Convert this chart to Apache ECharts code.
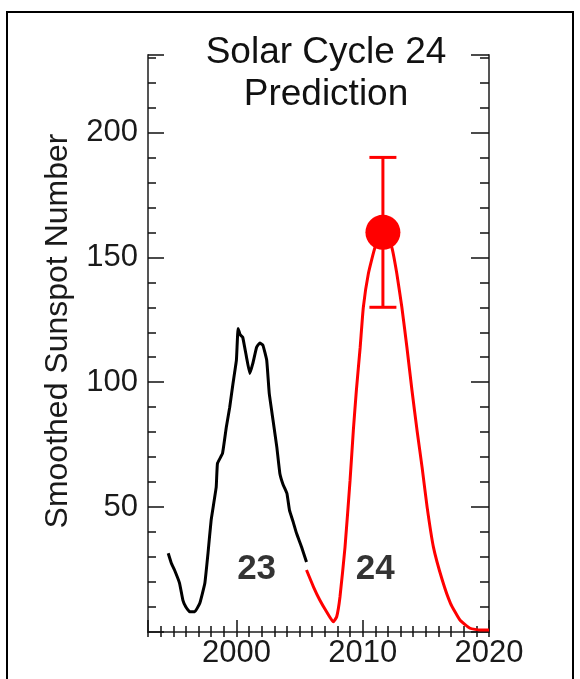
<!DOCTYPE html>
<html><head><meta charset="utf-8">
<script src="https://cdn.jsdelivr.net/npm/echarts@6/dist/echarts.min.js"></script>
<style>html,body{margin:0;padding:0;background:#fff}#c{width:580px;height:679px}</style>
</head><body><div id="c"></div>
<script>
// Cycle 23 (observed, black)
const cycle23Years = [1994.6, 1994.85, 1995.1, 1995.5, 1995.76, 1996.0, 1996.3, 1996.7, 1997.1, 1997.5, 1997.75, 1998.0, 1998.4, 1998.5, 1998.9, 1999.2, 1999.47, 1999.73, 2000.0, 2000.13, 2000.3, 2000.5, 2000.8, 2001.06, 2001.3, 2001.6, 2001.85, 2002.1, 2002.4, 2002.6, 2002.9, 2003.2, 2003.44, 2003.7, 2004.0, 2004.2, 2004.5, 2004.76, 2005.16, 2005.55];
const cycle23Values = [31.5, 27.5, 24.8, 19.5, 12.8, 10, 8.1, 8.1, 11.5, 19.5, 31.5, 44.8, 58, 67.5, 71.5, 82, 90, 99.5, 108.8, 121.5, 119, 118, 110, 103.5, 107.5, 114, 115.7, 114.8, 108.8, 95.5, 84.8, 74, 63.5, 59, 55.5, 48.8, 44, 39.5, 34, 28];
// Cycle 24 (prediction, red)
const cycle24Years = [2005.55, 2006.1, 2006.6, 2007.14, 2007.67, 2007.94, 2008.2, 2008.6, 2009.0, 2009.26, 2009.5, 2009.8, 2010.05, 2010.45, 2010.98, 2011.6, 2012.3, 2012.7, 2013.1, 2013.5, 2013.9, 2014.3, 2014.7, 2015.1, 2015.6, 2016.3, 2016.95, 2017.7, 2018.5, 2019.3, 2020];
const cycle24Values = [24.8, 18.1, 12.8, 8.1, 4.1, 6.1, 14, 34, 60.8, 80.8, 96.8, 114, 130, 143.5, 154, 160, 154, 143.5, 130, 114, 96.8, 80.8, 66, 50, 34, 20.8, 11.5, 4.8, 1.5, 0.8, 0.8];
// Predicted peak with error bar
const peakYears = [2011.6];
const peakValues = [160];
const peakLow = [130];
const peakHigh = [190];
// Cycle number labels
const cycleLabelNames = ['23', '24'];
const cycleLabelYears = [2001.6, 2011.0];
const cycleLabelValues = [25, 25];
// Tick labels
const xTickLabels = [2000, 2010, 2020];
const yTickLabels = [50, 100, 150, 200];

const FONT = '"Liberation Sans", Arial, sans-serif';
const X_MIN = 1993, X_MAX = 2020, Y_MIN = 0, Y_MAX = 231;
const axisLineStyle = { color: '#555', width: 2 };
const tickStyle = { color: '#111', width: 1.5 };

const chart = echarts.init(document.getElementById('c'), null, { renderer: 'canvas' });
const zip = (a, b) => a.map((v, i) => [v, b[i]]);

function xAxisCfg(pos, showLabels, majorLen, minorLen) {
  return { type: 'value', position: pos, min: X_MIN, max: X_MAX, minInterval: 10, maxInterval: 10, splitNumber: 3,
    axisLine: { show: true, lineStyle: axisLineStyle },
    axisTick: { show: true, inside: true, length: majorLen, lineStyle: tickStyle },
    minorTick: { show: true, splitNumber: 10, length: minorLen, lineStyle: tickStyle },
    axisLabel: { show: showLabels, showMinLabel: false, formatter: v => xTickLabels.includes(v) ? String(v) : '',
      fontFamily: FONT, fontSize: 31, color: '#1a1a1a', margin: 6 },
    splitLine: { show: false }, minorSplitLine: { show: false } };
}
function yAxisCfg(pos, showLabels, majorLen, minorLen) {
  return { type: 'value', position: pos, min: Y_MIN, max: Y_MAX, interval: 50,
    axisLine: { show: true, lineStyle: axisLineStyle },
    axisTick: { show: true, inside: true, length: majorLen, lineStyle: tickStyle },
    minorTick: { show: true, splitNumber: 5, length: minorLen, lineStyle: tickStyle },
    axisLabel: { show: showLabels, formatter: v => yTickLabels.includes(v) ? String(v) : '',
      fontFamily: FONT, fontSize: 31, color: '#1a1a1a', margin: 10 },
    splitLine: { show: false }, minorSplitLine: { show: false } };
}

chart.setOption({
  animation: false,
  backgroundColor: '#fff',
  title: {
    text: 'Solar Cycle 24\nPrediction',
    left: 318, textAlign: 'center', top: 30,
    backgroundColor: '#fff',
    padding: [2, 8, 6, 8],
    textStyle: { fontFamily: FONT, fontSize: 37, fontWeight: 'normal', color: '#111', lineHeight: 42 }
  },
  grid: { left: 148, right: 91, top: 55, bottom: 47 },
  xAxis: [ xAxisCfg('bottom', true, 12, 6), xAxisCfg('top', false, 5, 5) ],
  yAxis: [ yAxisCfg('left', true, 16, 8), yAxisCfg('right', false, 18, 9) ],
  series: [
    { name: 'Cycle 23', type: 'line', xAxisIndex: 0, yAxisIndex: 0, data: zip(cycle23Years, cycle23Values),
      showSymbol: false, smooth: 0.1, lineStyle: { color: '#000', width: 3 }, itemStyle: { color: '#000' } },
    { name: 'Cycle 24', type: 'line', xAxisIndex: 0, yAxisIndex: 0, data: zip(cycle24Years, cycle24Values),
      showSymbol: false, smooth: 0.15, lineStyle: { color: '#ff0000', width: 3 }, itemStyle: { color: '#ff0000' } },
    { name: 'Error', type: 'custom', xAxisIndex: 0, yAxisIndex: 0,
      data: peakYears.map((x, i) => [x, peakLow[i], peakHigh[i]]),
      encode: { x: 0, y: [1, 2] },
      renderItem: (params, api) => {
        const x = api.value(0);
        const lo = api.coord([x, api.value(1)]);
        const hi = api.coord([x, api.value(2)]);
        const hw = 13.5;
        const st = { stroke: '#ff0000', lineWidth: 3 };
        return { type: 'group', children: [
          { type: 'line', shape: { x1: lo[0], y1: lo[1], x2: hi[0], y2: hi[1] }, style: st },
          { type: 'line', shape: { x1: lo[0] - hw, y1: lo[1], x2: lo[0] + hw, y2: lo[1] }, style: st },
          { type: 'line', shape: { x1: hi[0] - hw, y1: hi[1], x2: hi[0] + hw, y2: hi[1] }, style: st }
        ] };
      }, z: 3 },
    { name: 'Peak', type: 'scatter', xAxisIndex: 0, yAxisIndex: 0, data: zip(peakYears, peakValues),
      symbol: 'circle', symbolSize: 35, itemStyle: { color: '#ff0000', opacity: 1 }, z: 4 },
    { name: 'Labels', type: 'scatter', xAxisIndex: 0, yAxisIndex: 0,
      data: cycleLabelYears.map((x, i) => ({ name: cycleLabelNames[i], value: [x, cycleLabelValues[i]] })),
      symbolSize: 1, itemStyle: { color: 'rgba(0,0,0,0)' },
      label: { show: true, position: 'inside', formatter: '{b}', fontFamily: FONT, fontSize: 35, fontWeight: 'bold', color: '#000' } }
  ],
  graphic: [
    { type: 'rect', shape: { x: 7, y: 12, width: 566, height: 700 }, style: { fill: 'none', stroke: '#000', lineWidth: 2 }, silent: true },
    { type: 'text', x: 58, y: 331, rotation: Math.PI / 2,
      style: { text: 'Smoothed Sunspot Number', font: '32px ' + FONT, fill: '#1a1a1a', align: 'center', verticalAlign: 'middle' } }
  ]
});
</script>
</body></html>
